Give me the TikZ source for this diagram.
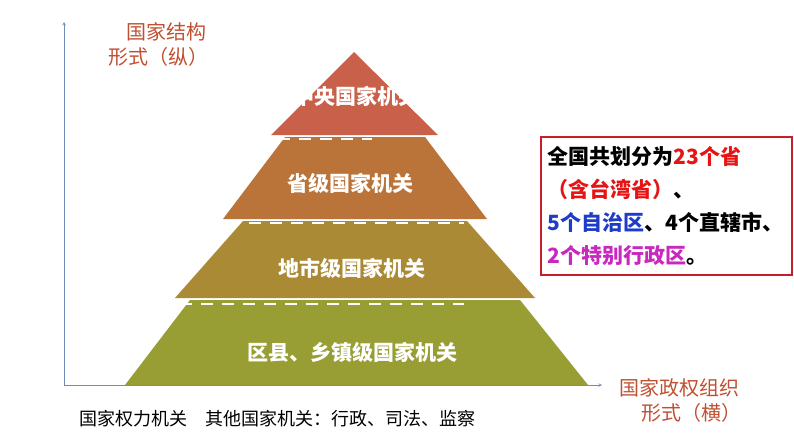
\documentclass[tikz,border=0pt]{standalone}
\usepackage{fontspec}
\setmainfont{Noto Sans CJK SC}
\begin{document}
\begin{tikzpicture}[x=1pt,y=-1pt,
  lab/.style={text=white,font=\fontsize{21}{21}\selectfont\bfseries},
  dsh/.style={white,line width=2pt,dash pattern=on 12pt off 9pt},
  axlab/.style={text={rgb,255:red,192;green,80;blue,50},font=\fontsize{20}{25}\selectfont,align=left},
  box/.style={draw={rgb,255:red,200;green,30;blue,40},line width=1.5pt,minimum width=251pt,minimum height=138pt}]
\useasboundingbox (0,0) rectangle (794,447);
\definecolor{cA}{RGB}{200,96,74}
\definecolor{cB}{RGB}{186,116,58}
\definecolor{cC}{RGB}{170,138,52}
\definecolor{cD}{RGB}{152,158,52}
\definecolor{ax}{RGB}{110,140,180}
\definecolor{rd}{RGB}{230,20,20}
\definecolor{bl}{RGB}{30,60,200}
\definecolor{mg}{RGB}{200,40,190}
\fill[cD] (190,300) -- (520,300) -- (588,385) -- (125,385) -- cycle;
\fill[cC] (243,221) -- (467,221) -- (535,298) -- (175,298) -- cycle;
\fill[cB] (285,137) -- (425,137) -- (487,219) -- (223,219) -- cycle;
\fill[cA] (354,52) -- (438,135) -- (271,135) -- cycle;
\draw[dsh] (278,139) -- (372,139);
\draw[dsh] (228,223) -- (464,223);
\draw[dsh] (180,304) -- (464,304);
\node[lab] (t1) at (356,96) {中央国家机关};
\node[lab] (t2) at (350,183) {省级国家机关};
\node[lab] (t3) at (352,268) {地市级国家机关};
\node[lab] (t4) at (352,352) {区县、乡镇级国家机关};
\coordinate (o) at (64,385);
\coordinate (yt) at (64,22);
\coordinate (xt) at (602,385);
\draw[ax,line width=0.6pt,-stealth] (o) -- (yt);
\draw[ax,line width=0.6pt,-stealth] (o) -- (xt);
\node[axlab,anchor=west] (v) at (105,44) {\hspace*{18pt}国家结构\\形式（纵）};
\node[axlab,anchor=west] (h) at (616,400) {国家政权组织\\\hspace*{22pt}形式（横）};
\node[anchor=west,font=\fontsize{18}{18}\selectfont] (b1) at (76,419) {国家权力机关};
\node[anchor=west,font=\fontsize{18}{18}\selectfont] (b2) at (202,419) {其他国家机关：行政、司法、监察};
\node[box] (bx) at (666.5,206) {};
\node[anchor=west,align=left,font=\fontsize{21}{33}\selectfont\bfseries] (bt) at (544,206)
{全国共划分为\textcolor{rd}{23个省}\\\textcolor{rd}{（含台湾省）}、\\\textcolor{bl}{5个自治区}、4个直辖市、\\\textcolor{mg}{2个特别行政区}。};
\end{tikzpicture}
\end{document}
